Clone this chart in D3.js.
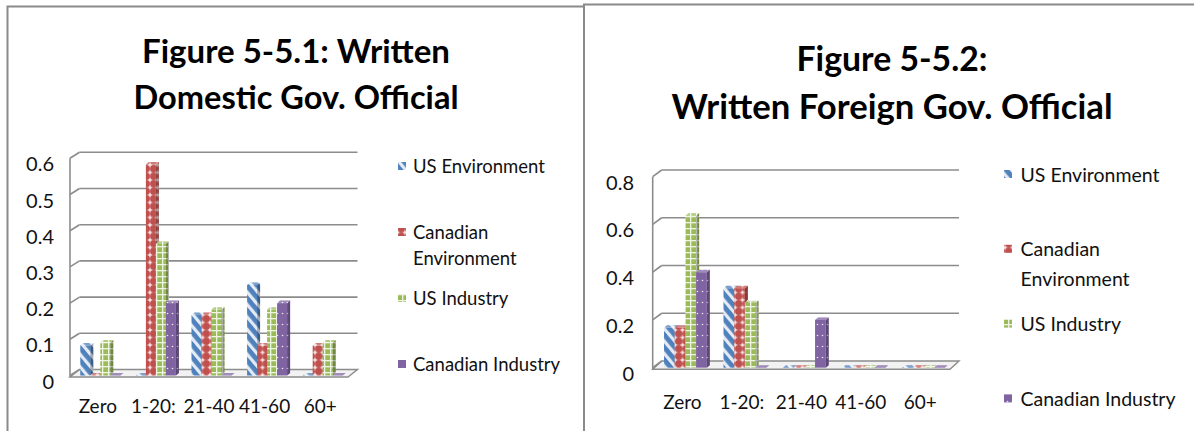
<!DOCTYPE html>
<html><head><meta charset="utf-8">
<script src="https://cdn.jsdelivr.net/npm/d3@7"></script>
<style>html,body{margin:0;padding:0;background:#fff;overflow:hidden}svg{display:block}</style>
</head><body>
<svg id="chart" width="1194" height="431"></svg>
<script>
// ---- data ----
const categories = ["Zero", "1-20:", "21-40", "41-60", "60+"];
const seriesNames = ["US Environment", "Canadian Environment", "US Industry", "Canadian Industry"];
const domesticUSEnv  = [0.083, 0,     0.167, 0.25,  0];
const domesticCanEnv = [0,     0.583, 0.167, 0.083, 0.083];
const domesticUSInd  = [0.091, 0.364, 0.182, 0.182, 0.091];
const domesticCanInd = [0,     0.2,   0,     0.2,   0];
const foreignUSEnv   = [0.167, 0.333, 0, 0, 0];
const foreignCanEnv  = [0.167, 0.333, 0, 0, 0];
const foreignUSInd   = [0.636, 0.273, 0, 0, 0];
const foreignCanInd  = [0.4,   0,     0.2, 0, 0];
const domesticTicks = [0, 0.1, 0.2, 0.3, 0.4, 0.5, 0.6];
const foreignTicks  = [0, 0.2, 0.4, 0.6, 0.8];
const domesticTitle = ["Figure 5-5.1: Written", "Domestic Gov. Official"];
const foreignTitle  = ["Figure 5-5.2:", "Written Foreign Gov. Official"];

const colors = ["#4f81bd", "#c0504d", "#9bbb59", "#8064a2"];
const FONT = "Lato, 'Open Sans', 'Liberation Sans', sans-serif";

const svg = d3.select("#chart");
const defs = svg.append("defs");

// ---- patterns ----
function makePatterns() {
  let p = defs.append("pattern").attr("id", "pat0").attr("patternUnits", "userSpaceOnUse")
    .attr("width", 8).attr("height", 8).attr("patternTransform", "rotate(-40)");
  p.append("rect").attr("width", 8).attr("height", 8).attr("fill", colors[0]);
  p.append("rect").attr("x", 0).attr("width", 3.2).attr("height", 8).attr("fill", "#e4ebf5");
  p = defs.append("pattern").attr("id", "pat1").attr("patternUnits", "userSpaceOnUse")
    .attr("width", 7.5).attr("height", 7.5);
  p.append("rect").attr("width", 7.5).attr("height", 7.5).attr("fill", "#f3dede");
  p.append("circle").attr("cx", 3.75).attr("cy", 3.75).attr("r", 3.7).attr("fill", colors[1]);
  p = defs.append("pattern").attr("id", "pat2").attr("patternUnits", "userSpaceOnUse")
    .attr("width", 6).attr("height", 6);
  p.append("rect").attr("width", 6).attr("height", 6).attr("fill", colors[2]);
  p.append("rect").attr("x", 0).attr("width", 1.3).attr("height", 6).attr("fill", "#eef4e4");
  p.append("rect").attr("y", 0).attr("width", 6).attr("height", 1.3).attr("fill", "#eef4e4");
  p = defs.append("pattern").attr("id", "pat3").attr("patternUnits", "userSpaceOnUse")
    .attr("width", 5).attr("height", 11);
  p.append("rect").attr("width", 5).attr("height", 11).attr("fill", colors[3]);
  p.append("circle").attr("cx", 2.5).attr("cy", 5.5).attr("r", 0.8).attr("fill", "#ece6f3");
}
makePatterns();

function drawChart(cfg) {
  const g = svg.append("g");
  const maxV = cfg.ticks[cfg.ticks.length - 1];
  const y = d3.scaleLinear().domain([0, maxV]).range([cfg.y0, cfg.y0 - cfg.pxPerUnit * maxV]);
  const x = d3.scaleBand().domain(categories).range([cfg.x0, cfg.x1]).padding(0);
  const bw = x.bandwidth();
  const inner = d3.scaleBand().domain(d3.range(seriesNames.length))
    .range([bw * 0.14 + cfg.shift, bw * 0.86 + cfg.shift]).padding(0);
  const gridCol = "#8c8c8c";

  const fy = cfg.y0 + 1.5;
  g.append("path").attr("d", `M${cfg.x0},${fy}L${cfg.x1},${fy}L${cfg.x1 + cfg.dx},${cfg.y0 + cfg.dy}L${cfg.x0 + cfg.dx},${cfg.y0 + cfg.dy}Z`)
    .attr("fill", "#f2f2f2").attr("stroke", gridCol).attr("stroke-width", 1.4);
  cfg.ticks.forEach(t => {
    const yy = y(t);
    if (t > 0) {
      g.append("line").attr("x1", cfg.x0 + cfg.dx).attr("x2", cfg.x1 + cfg.dx)
        .attr("y1", yy + cfg.dy).attr("y2", yy + cfg.dy).attr("stroke", gridCol).attr("stroke-width", 1.6);
    }
    g.append("line").attr("x1", cfg.x0).attr("x2", cfg.x0 + cfg.dx)
      .attr("y1", yy).attr("y2", yy + cfg.dy).attr("stroke", gridCol).attr("stroke-width", 1.6);
    g.append("text").attr("x", cfg.tickX).attr("y", yy + 5).attr("text-anchor", "end")
      .attr("dominant-baseline", "central").attr("font-family", FONT).attr("font-size", cfg.tickFs)
      .attr("fill", "#111").text(t === 0 ? "0" : d3.format(".1f")(t));
  });
  g.append("line").attr("x1", cfg.x0).attr("x2", cfg.x0).attr("y1", y(maxV)).attr("y2", fy)
    .attr("stroke", gridCol).attr("stroke-width", 1.6);

  const bdx = 3, bdy = -2.5;
  categories.forEach((c, ci) => {
    cfg.series.forEach((vals, si) => {
      const v = vals[ci];
      const bx = x(c) + inner(si);
      const w = inner.bandwidth();
      const yb = cfg.y0, yt = y(v);
      const fill = `url(#pat${si})`;
      if (v > 0) {
        g.append("rect").attr("x", bx).attr("y", yt).attr("width", w).attr("height", yb - yt).attr("fill", fill);
      }
      const side = `M${bx + w},${yt}L${bx + w + bdx},${yt + bdy}L${bx + w + bdx},${yb + bdy}L${bx + w},${yb}Z`;
      g.append("path").attr("d", side).attr("fill", fill);
      g.append("path").attr("d", side).attr("fill", "#000").attr("opacity", 0.28);
      const top = `M${bx},${yt}L${bx + bdx},${yt + bdy}L${bx + w + bdx},${yt + bdy}L${bx + w},${yt}Z`;
      g.append("path").attr("d", top).attr("fill", fill);
      g.append("path").attr("d", top).attr("fill", "#fff").attr("opacity", 0.25);
    });
  });

  categories.forEach(c => {
    g.append("text").attr("x", x(c) + bw / 2).attr("y", cfg.catY).attr("text-anchor", "middle")
      .attr("dominant-baseline", "central").attr("font-family", FONT).attr("font-size", cfg.catFs)
      .attr("fill", "#111").text(c);
  });

  cfg.title.forEach((line, i) => {
    g.append("text").attr("x", cfg.titleX).attr("y", cfg.titleY[i]).attr("text-anchor", "middle")
      .attr("font-family", FONT).attr("font-weight", "bold").attr("font-size", cfg.titleFs)
      .attr("textLength", cfg.titleW[i]).attr("lengthAdjust", "spacingAndGlyphs")
      .attr("fill", "#000").text(line);
  });

  const L = cfg.legend;
  seriesNames.forEach((name, si) => {
    const ty = L.y0 + si * L.step;
    g.append("rect").attr("x", L.mx).attr("y", ty - 4).attr("width", 8).attr("height", 8)
      .attr("fill", `url(#pat${si})`);
    const words = name.split(" ");
    const lines = [];
    let cur = "";
    const probe = g.append("text").attr("font-family", FONT).attr("font-size", L.fs);
    words.forEach(wd => {
      const test = cur ? cur + " " + wd : wd;
      probe.text(test);
      if (cur && probe.node().getComputedTextLength() > L.maxW) { lines.push(cur); cur = wd; }
      else cur = test;
    });
    lines.push(cur);
    probe.remove();
    lines.forEach((ln, li) => {
      g.append("text").attr("x", L.tx).attr("y", ty + li * L.lh).attr("dominant-baseline", "central")
        .attr("font-family", FONT).attr("font-size", L.fs).attr("fill", "#111").text(ln);
    });
  });
}

svg.append("path").attr("d", "M7.5,431L7.5,6.5L584,6.5").attr("fill", "none").attr("stroke", "#8a8a8a").attr("stroke-width", 2);
svg.append("path").attr("d", "M584,431L584,4.5L1194,4.5").attr("fill", "none").attr("stroke", "#8a8a8a").attr("stroke-width", 2);

drawChart({
  series: [domesticUSEnv, domesticCanEnv, domesticUSInd, domesticCanInd],
  ticks: domesticTicks,
  x0: 70, x1: 348, y0: 375.5, pxPerUnit: 362, dx: 9.5, dy: -6, shift: 2.5,
  tickX: 54, tickFs: 20, catY: 405, catFs: 19,
  title: domesticTitle, titleX: 296, titleY: [63, 109], titleFs: 33, titleW: [308, 325],
  legend: { mx: 398, tx: 413, y0: 166, step: 66, lh: 26.3, fs: 18.5, maxW: 168 }
});
drawChart({
  series: [foreignUSEnv, foreignCanEnv, foreignUSInd, foreignCanInd],
  ticks: foreignTicks,
  x0: 652.7, x1: 950, y0: 367.7, pxPerUnit: 238.75, dx: 9, dy: -6.7, shift: 3,
  tickX: 634, tickFs: 20, catY: 401.7, catFs: 19,
  title: foreignTitle, titleX: 892, titleY: [71, 119], titleFs: 35, titleW: [191, 441],
  legend: { mx: 1004, tx: 1020.5, y0: 174, step: 74.8, lh: 29.6, fs: 19.5, maxW: 170 }
});
</script>
</body></html>
